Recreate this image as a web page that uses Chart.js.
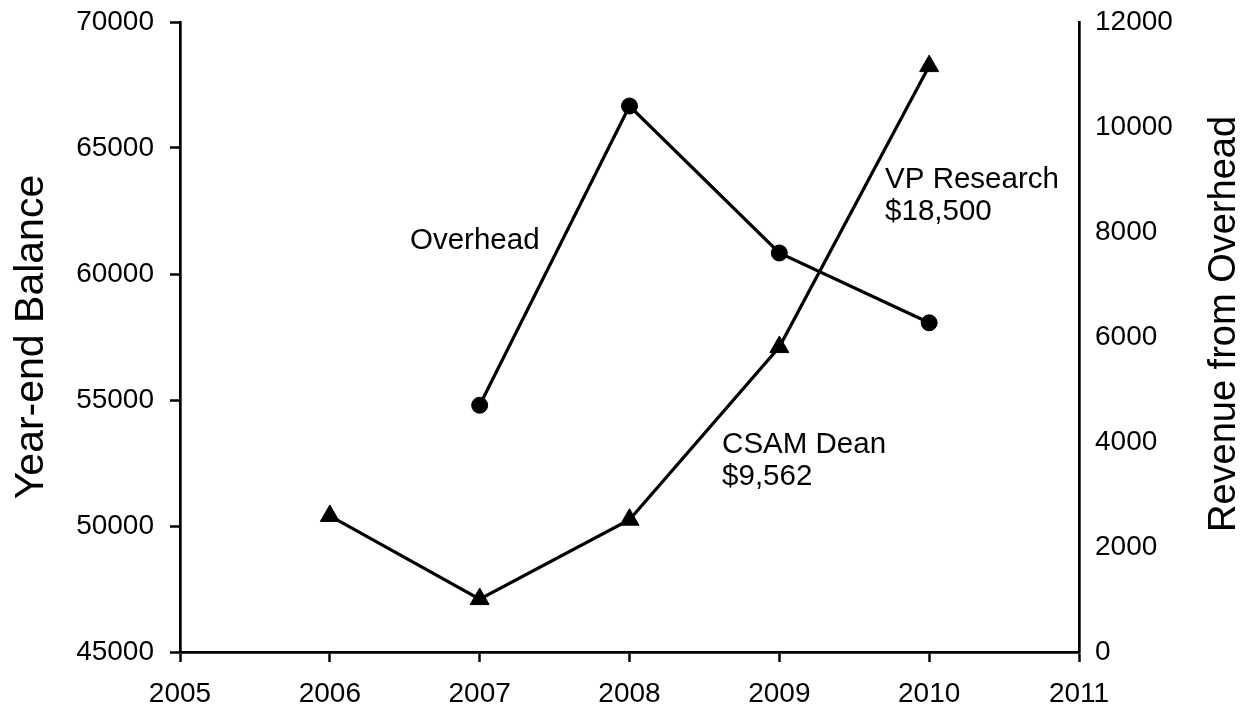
<!DOCTYPE html>
<html>
<head>
<meta charset="utf-8">
<script src="https://cdn.jsdelivr.net/npm/chart.js@4"></script>
<style>
  html, body { margin: 0; padding: 0; background: #fff; }
  #wrap { width: 1249px; height: 709px; }
</style>
</head>
<body>
<div id="wrap"><canvas id="c" width="1249" height="709"></canvas></div>
<script>
// ---- data ----
const balanceYears = [2006, 2007, 2008, 2009, 2010];
const balanceValues = [50400, 47100, 50250, 57100, 68250];
const overheadYears = [2007, 2008, 2009, 2010];
const overheadValues = [4700, 10400, 7600, 6270];
const xTickValues = [2005, 2006, 2007, 2008, 2009, 2010, 2011];
const leftTickValues = [45000, 50000, 55000, 60000, 65000, 70000];
const rightTickValues = [0, 2000, 4000, 6000, 8000, 10000, 12000];
const leftTitle = 'Year-end Balance';
const rightTitle = 'Revenue from Overhead';
const notes = [
  { lines: ['Overhead'], x: 2006.535, y: 60990 },
  { lines: ['CSAM Dean', '$9,562'], x: 2008.618, y: 52900 },
  { lines: ['VP Research', '$18,500'], x: 2009.706, y: 63410 }
];

const FONT = '"Liberation Sans", Arial, Helvetica, sans-serif';

const textPlugin = {
  id: 'textPlugin',
  afterDraw(chart) {
    const ctx = chart.ctx;
    const xs = chart.scales.x, yl = chart.scales.y;
    const area = chart.chartArea;
    ctx.save();
    ctx.fillStyle = '#000';
    ctx.font = '29.5px ' + FONT;
    ctx.textAlign = 'left';
    ctx.textBaseline = 'alphabetic';
    notes.forEach(n => {
      const px = xs.getPixelForValue(n.x);
      const py = yl.getPixelForValue(n.y);
      n.lines.forEach((t, i) => ctx.fillText(t, px, py + i * 32));
    });
    ctx.textAlign = 'center';
    ctx.save();
    ctx.font = '41px ' + FONT;
    ctx.translate(43, (area.top + area.bottom) / 2);
    ctx.rotate(-Math.PI / 2);
    ctx.fillText(leftTitle, 0, 0);
    ctx.restore();
    ctx.save();
    ctx.font = '38px ' + FONT;
    ctx.translate(1235, (area.top + area.bottom) / 2 - 13);
    ctx.rotate(-Math.PI / 2);
    ctx.fillText(rightTitle, 0, 0);
    ctx.restore();
    ctx.restore();
  }
};

function setTicks(arr) {
  return function(scale) { scale.ticks = arr.map(v => ({ value: v })); };
}

new Chart(document.getElementById('c'), {
  type: 'line',
  data: {
    datasets: [
      {
        label: 'Year-end Balance',
        data: balanceYears.map((yr, i) => ({ x: yr, y: balanceValues[i] })),
        yAxisID: 'y',
        borderColor: '#000',
        backgroundColor: '#000',
        borderWidth: 3.2,
        pointStyle: 'triangle',
        pointRadius: 11,
        pointHoverRadius: 11,
        pointBorderWidth: 1,
        tension: 0
      },
      {
        label: 'Overhead',
        data: overheadYears.map((yr, i) => ({ x: yr, y: overheadValues[i] })),
        yAxisID: 'y1',
        borderColor: '#000',
        backgroundColor: '#000',
        borderWidth: 3.2,
        pointStyle: 'circle',
        pointRadius: 8,
        pointHoverRadius: 8,
        pointBorderWidth: 1,
        tension: 0
      }
    ]
  },
  options: {
    responsive: false,
    animation: false,
    devicePixelRatio: 1,
    layout: { padding: { top: 22, left: 0, right: 0, bottom: 0 } },
    plugins: { legend: { display: false }, tooltip: { enabled: false } },
    scales: {
      x: {
        type: 'linear',
        position: 'bottom',
        min: 2005, max: 2011,
        afterBuildTicks: setTicks(xTickValues),
        afterFit(s) { s.height = 57; s.paddingLeft = 0; s.paddingRight = 0; },
        ticks: { color: '#000', font: { family: FONT, size: 28 }, padding: 15, callback: v => String(v), maxRotation: 0, autoSkip: false },
        grid: { display: true, drawOnChartArea: false, drawTicks: true, tickLength: 10, tickWidth: 2.5, tickColor: '#000' },
        border: { display: true, color: '#000', width: 2.7 }
      },
      y: {
        type: 'linear',
        position: 'left',
        min: 45000, max: 70000,
        afterBuildTicks: setTicks(leftTickValues),
        afterFit(s) { s.width = 180; s.paddingTop = 0; s.paddingBottom = 0; },
        ticks: { color: '#000', font: { family: FONT, size: 28 }, padding: 16, callback: v => String(v) },
        grid: { display: true, drawOnChartArea: false, drawTicks: true, tickLength: 10, tickWidth: 2.5, tickColor: '#000' },
        border: { display: true, color: '#000', width: 2.7 }
      },
      y1: {
        type: 'linear',
        position: 'right',
        min: 0, max: 12000,
        afterBuildTicks: setTicks(rightTickValues),
        afterFit(s) { s.width = 170; s.paddingTop = 0; s.paddingBottom = 0; },
        ticks: { color: '#000', font: { family: FONT, size: 28 }, padding: 16, callback: v => String(v) },
        grid: { display: false, drawOnChartArea: false, drawTicks: false },
        border: { display: true, color: '#000', width: 2.7 }
      }
    }
  },
  plugins: [textPlugin]
});
</script>
</body>
</html>
